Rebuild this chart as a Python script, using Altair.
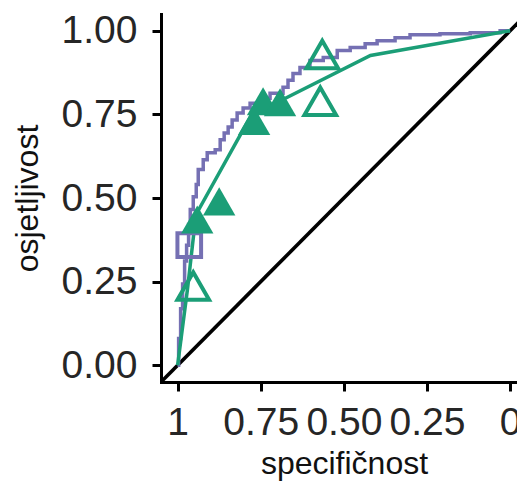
import altair as alt
import pandas as pd

# ---- data ----
# empirical ROC (purple step curve)
purple_spec = [1.0, 0.997, 0.991, 0.985, 0.979, 0.973, 0.967, 0.962, 0.953, 0.944,
               0.938, 0.923, 0.911, 0.887, 0.872, 0.860, 0.848, 0.836, 0.821, 0.803,
               0.782, 0.752, 0.722, 0.683, 0.668, 0.653, 0.632, 0.602, 0.562, 0.520,
               0.481, 0.436, 0.400, 0.346, 0.301, 0.211, 0.120, 0.030, 0.0]
purple_sens = [0.0, 0.080, 0.169, 0.243, 0.312, 0.359, 0.421, 0.466, 0.504, 0.540,
               0.585, 0.614, 0.635, 0.644, 0.674, 0.694, 0.712, 0.733, 0.754, 0.769,
               0.783, 0.798, 0.813, 0.831, 0.852, 0.872, 0.890, 0.911, 0.920, 0.941,
               0.950, 0.961, 0.970, 0.979, 0.988, 0.991, 0.994, 1.0, 1.0]

# green ROC line
green_spec = [1.0, 0.97, 0.945, 0.78, 0.746, 0.42, 0.0]
green_sens = [0.0, 0.23, 0.45, 0.745, 0.763, 0.926, 1.0]

# purple hollow square
square_spec = [0.965]
square_sens = [0.359]

# green filled triangles
filled_spec = [0.941, 0.875, 0.770, 0.743, 0.692]
filled_sens = [0.436, 0.490, 0.730, 0.789, 0.786]

# green hollow triangles
hollow_spec = [0.953, 0.565, 0.571]
hollow_sens = [0.237, 0.929, 0.789]

# reference diagonal
diag_spec = [1.1, -0.1]
diag_sens = [-0.1, 1.1]

x_ticks = [1, 0.75, 0.5, 0.25, 0]
y_ticks = [0, 0.25, 0.5, 0.75, 1]

GREEN = "#1B9E77"
PURPLE = "#7570B3"


def frame(spec, sens):
    return pd.DataFrame({"spec": spec, "sens": sens, "i": list(range(len(spec)))})


x_scale = alt.Scale(domain=[-0.0207, 1.05], reverse=True, nice=False, zero=False)
y_scale = alt.Scale(domain=[-0.05, 1.05], nice=False, zero=False)

X = alt.X("spec:Q", scale=x_scale,
          axis=alt.Axis(title="specifičnost", values=x_ticks,
                        labelExpr="datum.value == 1 ? '1' : (datum.value == 0 ? '0' : format(datum.value, '.2f'))",
                        labelPadding=12, titleFontSize=32, titleAngle=0,
                        titleX=183, titleY=91, titleAlign="center",
                        titleBaseline="alphabetic"))
Y = alt.Y("sens:Q", scale=y_scale,
          axis=alt.Axis(title="osjetljivost", values=y_ticks, format=".2f",
                        labelPadding=15, titleFontSize=32, titleAngle=270,
                        titleX=-124, titleY=184, titleAlign="center",
                        titleBaseline="alphabetic"))

diag = alt.Chart(frame(diag_spec, diag_sens)).mark_line(
    color="black", strokeWidth=3.6, clip=True
).encode(x=X, y=Y, order="i:Q")

purple = alt.Chart(frame(purple_spec, purple_sens)).mark_line(
    color=PURPLE, strokeWidth=3.5, interpolate="step-after", clip=True
).encode(x=X, y=Y, order="i:Q")

green = alt.Chart(frame(green_spec, green_sens)).mark_line(
    color=GREEN, strokeWidth=3.5, clip=True
).encode(x=X, y=Y, order="i:Q")

square = alt.Chart(frame(square_spec, square_sens)).mark_point(
    shape="square", size=560, filled=False, strokeWidth=4, color=PURPLE, opacity=1, clip=True
).encode(x=X, y=Y)

filled = alt.Chart(frame(filled_spec, filled_sens)).mark_point(
    shape="triangle-up", size=1050, filled=True, color=GREEN, opacity=1, clip=True
).encode(x=X, y=Y)

hollow = alt.Chart(frame(hollow_spec, hollow_sens)).mark_point(
    shape="triangle-up", size=1000, filled=False, strokeWidth=4, color=GREEN, opacity=1, clip=True
).encode(x=X, y=Y)

chart = alt.layer(diag, purple, green, square, filled, hollow).properties(
    width=356, height=368,
    padding={"left": 153, "top": 6, "right": 0, "bottom": 100},
    autosize=alt.AutoSizeParams(type="none"),
).configure_view(stroke=None).configure_axis(
    grid=False,
    domainColor="black", domainWidth=3, domainCap="square",
    tickColor="black", tickWidth=3, tickSize=9,
    labelFont="Liberation Sans", labelFontSize=39, labelColor="#262626",
    labelFlush=False, labelOverlap=False,
    titleFont="Liberation Sans", titleColor="#111111", titleFontWeight="normal",
)

chart.save("out.html", embed_options={"renderer": "svg", "actions": False})
